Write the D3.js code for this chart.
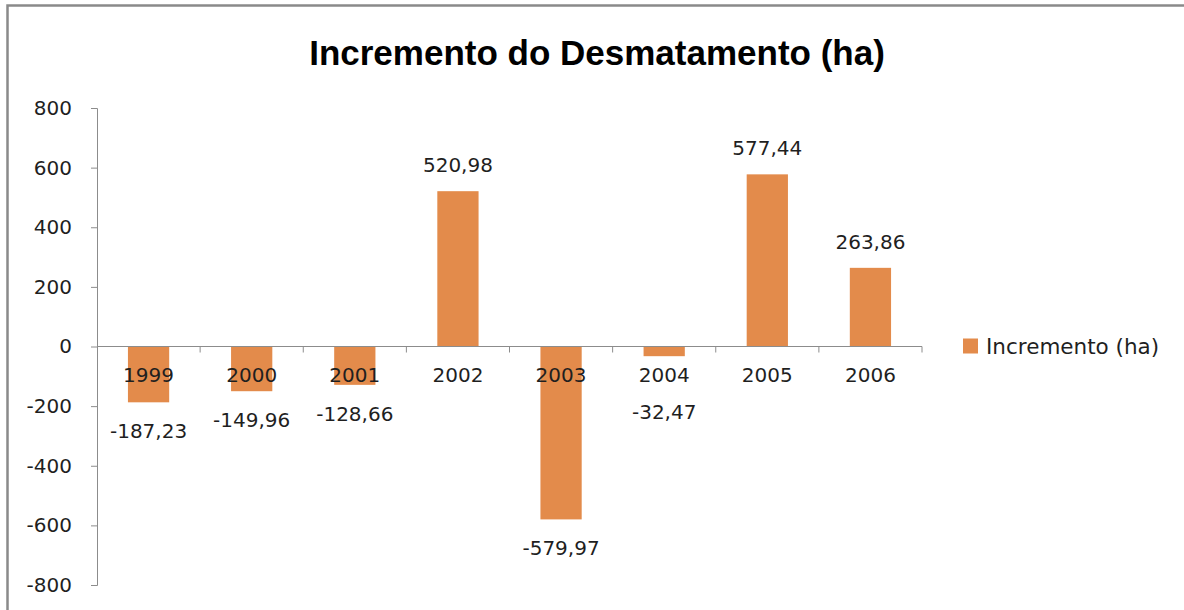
<!DOCTYPE html>
<html>
<head>
<meta charset="utf-8">
<script src="https://cdn.jsdelivr.net/npm/d3@7"></script>
<style>
  body { margin: 0; background: #fff; }
  svg text { font-family: "DejaVu Sans", Arial, sans-serif; fill: #1f1f1f; }
</style>
</head>
<body>
<svg id="chart"></svg>
<script>
// data
const years = ["1999", "2000", "2001", "2002", "2003", "2004", "2005", "2006"];
const increments = [-187.23, -149.96, -128.66, 520.98, -579.97, -32.47, 577.44, 263.86];
const yTicks = [-800, -600, -400, -200, 0, 200, 400, 600, 800];
const seriesName = "Incremento (ha)";
const title = "Incremento do Desmatamento (ha)";

const W = 1184, H = 610;
const margin = { top: 108, left: 97, right: 262, bottom: 25 };
const barColor = "#e38b4b";
const axisColor = "#8c8c8c";
const fontSize = "20px";

const svg = d3.select("#chart").attr("width", W).attr("height", H);

// outer frame (only left and top visible)
svg.append("path")
  .attr("d", `M7.5,${H + 5} L7.5,5.5 L${W + 5},5.5`)
  .attr("fill", "none")
  .attr("stroke", "#8a8a8a")
  .attr("stroke-width", 2.5);

svg.append("text")
  .attr("x", 597)
  .attr("y", 65)
  .attr("text-anchor", "middle")
  .style("font-family", "Liberation Sans, Arial, sans-serif")
  .style("font-size", "35px")
  .style("font-weight", "bold")
  .style("fill", "#000")
  .text(title);

const x = d3.scaleBand()
  .domain(years)
  .range([margin.left, 922])
  .paddingInner(0.6)
  .paddingOuter(0.3);

const y = d3.scaleLinear()
  .domain([-800, 800])
  .range([585, margin.top]);

// y axis
const yAxis = svg.append("g")
  .attr("transform", `translate(${margin.left},0)`)
  .call(d3.axisLeft(y).tickValues(yTicks).tickSize(6).tickPadding(19).tickFormat(d => d));
yAxis.selectAll("line, path").attr("stroke", axisColor);
yAxis.selectAll("text")
  .style("font-size", fontSize)
  .style("font-family", "DejaVu Sans, Arial, sans-serif")
  .attr("fill", "#1f1f1f");

// bars
svg.selectAll(".bar")
  .data(increments)
  .enter().append("rect")
  .attr("class", "bar")
  .attr("x", (d, i) => x(years[i]))
  .attr("width", x.bandwidth())
  .attr("y", d => y(Math.max(0, d)))
  .attr("height", d => Math.abs(y(d) - y(0)))
  .attr("fill", barColor);

// x axis at zero, ticks on category boundaries
const x0 = margin.left;
const xAxis = svg.append("g");
xAxis.append("line")
  .attr("x1", x0).attr("x2", 922)
  .attr("y1", y(0)).attr("y2", y(0))
  .attr("stroke", axisColor);
xAxis.selectAll(".xtick")
  .data(d3.range(1, years.length + 1))
  .enter().append("line")
  .attr("x1", i => x0 + i * (922 - x0) / years.length)
  .attr("x2", i => x0 + i * (922 - x0) / years.length)
  .attr("y1", y(0)).attr("y2", y(0) + 6)
  .attr("stroke", axisColor);

// category labels next to axis
svg.selectAll(".year")
  .data(years)
  .enter().append("text")
  .attr("x", d => x(d) + x.bandwidth() / 2)
  .attr("y", y(0) + 35)
  .attr("text-anchor", "middle")
  .style("font-size", fontSize)
  .text(d => d);

// data labels
const fmt = v => v.toFixed(2).replace(".", ",");
svg.selectAll(".lbl")
  .data(increments)
  .enter().append("text")
  .attr("x", (d, i) => x(years[i]) + x.bandwidth() / 2)
  .attr("y", d => d >= 0 ? y(d) - 19 : Math.max(y(d) + 36, y(0) + 72))
  .attr("text-anchor", "middle")
  .style("font-size", fontSize)
  .text(d => fmt(d));

// legend
const legend = svg.append("g").attr("transform", `translate(963,${y(0) - 8})`);
legend.append("rect").attr("width", 15).attr("height", 15).attr("fill", barColor);
legend.append("text")
  .attr("x", 23).attr("y", 15)
  .style("font-size", "21.5px")
  .text(seriesName);
</script>
</body>
</html>
